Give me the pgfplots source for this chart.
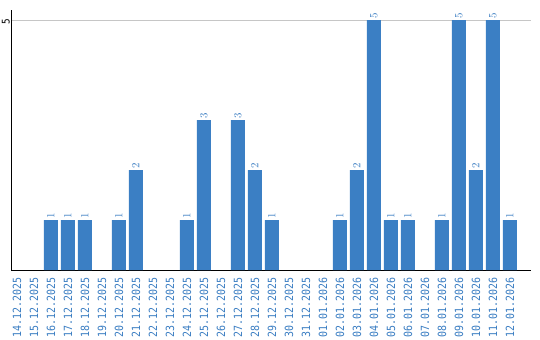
\documentclass[border=0pt]{standalone}
\usepackage{fontspec}
\setmainfont{DejaVu Sans}
\newfontfamily\labfont[FakeStretch=0.88]{DejaVu Sans Mono}
\usepackage{pgfplots}
\pgfplotsset{compat=1.18}
\definecolor{barblue}{RGB}{59,127,196}
\definecolor{labblue}{RGB}{58,125,194}
\begin{document}
\begin{tikzpicture}
\begin{axis}[
  scale only axis,
  width=520bp, height=260bp,
  xmin=-0.35, xmax=30.24,
  ymin=0, ymax=5.2,
  axis x line*=bottom, axis y line*=left,
  axis line style={black, line width=0.8pt},
  ytick={5}, yticklabels={5},
  ymajorgrids, grid style={gray!45, line width=0.6pt},
  major tick length=0pt,
  xtick={0,...,29},
  xticklabels={14.12.2025,15.12.2025,16.12.2025,17.12.2025,18.12.2025,19.12.2025,20.12.2025,21.12.2025,22.12.2025,23.12.2025,24.12.2025,25.12.2025,26.12.2025,27.12.2025,28.12.2025,29.12.2025,30.12.2025,31.12.2025,01.01.2026,02.01.2026,03.01.2026,04.01.2026,05.01.2026,06.01.2026,07.01.2026,08.01.2026,09.01.2026,10.01.2026,11.01.2026,12.01.2026},
  xticklabel style={rotate=90, anchor=east, font=\labfont\fontsize{11.3bp}{12bp}\selectfont, text=labblue, inner sep=0pt, xshift=-7.5bp},
  yticklabel style={rotate=90, anchor=south, font=\labfont\fontsize{10.6bp}{11bp}\selectfont, text=black, inner sep=1bp, xshift=-2bp},
  ybar, bar width=14bp,
  nodes near coords,
  nodes near coords style={rotate=90, anchor=west, font=\labfont\fontsize{11bp}{12bp}\selectfont, text=labblue, inner sep=1.5bp},
]
\addplot[fill=barblue, draw=none, bar shift=0pt] coordinates {
(2,1)(3,1)(4,1)(6,1)(7,2)(10,1)(11,3)(13,3)(14,2)(15,1)(19,1)(20,2)(21,5)(22,1)(23,1)(25,1)(26,5)(27,2)(28,5)(29,1)
};
\end{axis}
\path (current axis.south west) ++(-11bp,-70bp) rectangle ++(540bp,340bp);
\end{tikzpicture}
\end{document}
